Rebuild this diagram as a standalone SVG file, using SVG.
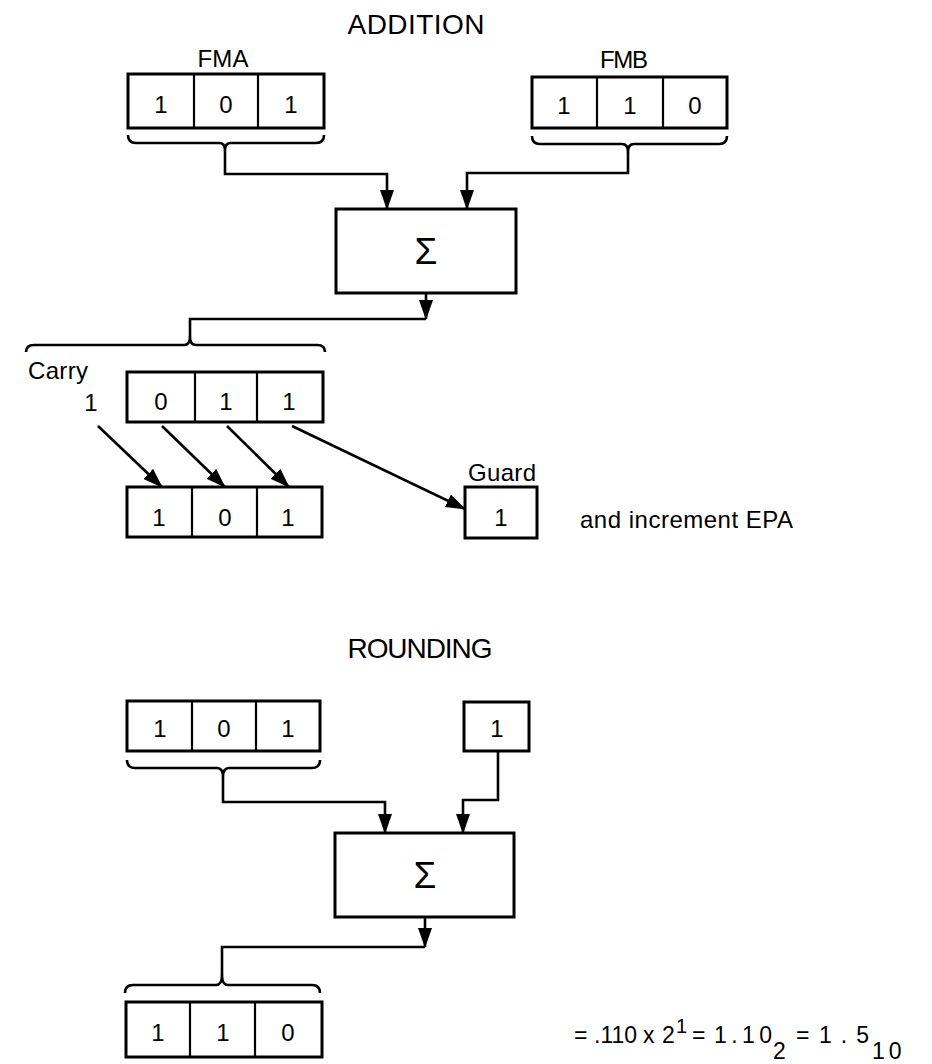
<svg xmlns="http://www.w3.org/2000/svg" width="932" height="1064" viewBox="0 0 932 1064">
<style>
  .box{fill:#fff;stroke:#000;stroke-width:3}
  .dv{stroke:#000;stroke-width:2.2}
  .ln{fill:none;stroke:#000;stroke-width:2.6}
  .br{fill:none;stroke:#000;stroke-width:2.6;stroke-linejoin:round}
  text{font-family:"Liberation Sans",Arial,sans-serif;fill:#000}
  .d{font-size:24px;text-anchor:middle}
  .t{font-size:28px;text-anchor:middle}
  .l{font-size:24px}
  .m{text-anchor:middle}
  .sg{font-size:37px;text-anchor:middle}
  .eq{font-size:23px}
</style>
<defs>
  <marker id="ah" markerUnits="userSpaceOnUse" markerWidth="20" markerHeight="14" viewBox="0 0 20 14" refX="19" refY="7" orient="auto">
    <path d="M0,0 L20,7 L0,14 z" fill="#000"/>
  </marker>
</defs>
<rect width="932" height="1064" fill="#fff"/>

<g id="title-addition"><text class="t" x="416" y="34" textLength="137">ADDITION</text></g>

<g id="fma">
  <text class="l m" x="223" y="67" textLength="51">FMA</text>
  <rect class="box" x="128" y="74" width="196" height="54"/>
  <line class="dv" x1="194" y1="74" x2="194" y2="128"/>
  <line class="dv" x1="258" y1="74" x2="258" y2="128"/>
  <text class="d" x="161" y="113">1</text>
  <text class="d" x="226" y="113">0</text>
  <text class="d" x="291" y="113">1</text>
  <path class="br" d="M128,135 Q128,143 136,143 H219 Q225,143 225,150 Q225,143 231,143 H316 Q324,143 324,135"/>
</g>

<g id="fmb">
  <text class="l m" x="624" y="68" textLength="48">FMB</text>
  <rect class="box" x="532" y="77" width="195" height="51"/>
  <line class="dv" x1="597" y1="77" x2="597" y2="128"/>
  <line class="dv" x1="663" y1="77" x2="663" y2="128"/>
  <text class="d" x="564" y="114">1</text>
  <text class="d" x="630" y="114">1</text>
  <text class="d" x="695" y="114">0</text>
  <path class="br" d="M532,136 Q532,144 540,144 H622 Q628,144 628,152 Q628,144 634,144 H719 Q727,144 727,136"/>
</g>

<g id="sum-add">
  <rect class="box" x="336" y="209" width="180" height="84"/>
  <text class="sg" x="426" y="264">Σ</text>
</g>

<g id="result-add">
  <path class="br" d="M26,352 Q26,345 34,345 H184 Q190,345 190,337 Q190,345 196,345 H317 Q325,345 325,352"/>
  <text class="l" x="28" y="379" textLength="60">Carry</text>
  <text class="d" x="91" y="411">1</text>
  <rect class="box" x="127" y="372" width="196" height="50"/>
  <line class="dv" x1="195" y1="372" x2="195" y2="422"/>
  <line class="dv" x1="257" y1="372" x2="257" y2="422"/>
  <text class="d" x="161" y="410">0</text>
  <text class="d" x="226" y="410">1</text>
  <text class="d" x="289" y="410">1</text>
</g>

<g id="shifted">
  <rect class="box" x="127" y="487" width="195" height="50"/>
  <line class="dv" x1="192" y1="487" x2="192" y2="537"/>
  <line class="dv" x1="257" y1="487" x2="257" y2="537"/>
  <text class="d" x="159" y="526">1</text>
  <text class="d" x="225" y="526">0</text>
  <text class="d" x="288" y="526">1</text>
</g>

<g id="guard">
  <text class="l m" x="502" y="481" textLength="68">Guard</text>
  <rect class="box" x="465" y="487" width="72" height="51"/>
  <text class="d" x="501" y="526">1</text>
</g>

<g id="note"><text class="l" x="580" y="528" textLength="213">and increment EPA</text></g>

<g id="title-rounding"><text class="t" x="420" y="658" textLength="145">ROUNDING</text></g>

<g id="round-a">
  <rect class="box" x="127" y="701" width="193" height="50"/>
  <line class="dv" x1="192" y1="701" x2="192" y2="751"/>
  <line class="dv" x1="256" y1="701" x2="256" y2="751"/>
  <text class="d" x="160" y="737">1</text>
  <text class="d" x="224" y="737">0</text>
  <text class="d" x="288" y="737">1</text>
  <path class="br" d="M127,760 Q127,768 135,768 H217 Q223,768 223,777 Q223,768 229,768 H312 Q320,768 320,760"/>
</g>

<g id="round-b">
  <rect class="box" x="464" y="702" width="65" height="49"/>
  <text class="d" x="497" y="737">1</text>
</g>

<g id="sum-round">
  <rect class="box" x="335" y="833" width="179" height="84"/>
  <text class="sg" x="425" y="888">Σ</text>
</g>

<g id="result-round">
  <path class="br" d="M125,993 Q125,985 133,985 H216 Q222,985 222,975 Q222,985 228,985 H312 Q320,985 320,993"/>
  <rect class="box" x="126" y="1002" width="196" height="55"/>
  <line class="dv" x1="190" y1="1002" x2="190" y2="1057"/>
  <line class="dv" x1="255" y1="1002" x2="255" y2="1057"/>
  <text class="d" x="158" y="1041">1</text>
  <text class="d" x="223" y="1041">1</text>
  <text class="d" x="288" y="1041">0</text>
</g>

<g id="equation" class="eq">
  <text x="574" y="1043">=</text>
  <text x="594" y="1043">.110</text>
  <text x="643" y="1043">x</text>
  <text x="662" y="1043">2</text>
  <text x="676" y="1033" font-size="20">1</text>
  <text x="692" y="1043">=</text>
  <text x="714" y="1043" textLength="58">1.10</text>
  <text x="773" y="1059">2</text>
  <text x="796" y="1043">=</text>
  <text x="819" y="1043" textLength="50">1.5</text>
  <text x="872" y="1059" letter-spacing="4">10</text>
</g>

<g id="connectors">
  <path class="ln" d="M225,150 V174 H387 V209" marker-end="url(#ah)"/>
  <path class="ln" d="M628,152 V173 H467 V209" marker-end="url(#ah)"/>
  <path class="ln" d="M426,293 V319" marker-end="url(#ah)"/>
  <path class="ln" d="M426,319 H190 V337"/>
  <path class="ln" d="M98,426 L162,487" marker-end="url(#ah)"/>
  <path class="ln" d="M162,426 L225,487" marker-end="url(#ah)"/>
  <path class="ln" d="M227,426 L289,487" marker-end="url(#ah)"/>
  <path class="ln" d="M292,426 L465,509" marker-end="url(#ah)"/>
  <path class="ln" d="M223,777 V802 H385 V833" marker-end="url(#ah)"/>
  <path class="ln" d="M498,751 V800 H463 V833" marker-end="url(#ah)"/>
  <path class="ln" d="M425,917 V947" marker-end="url(#ah)"/>
  <path class="ln" d="M425,947 H222 V975"/>
</g>
</svg>
